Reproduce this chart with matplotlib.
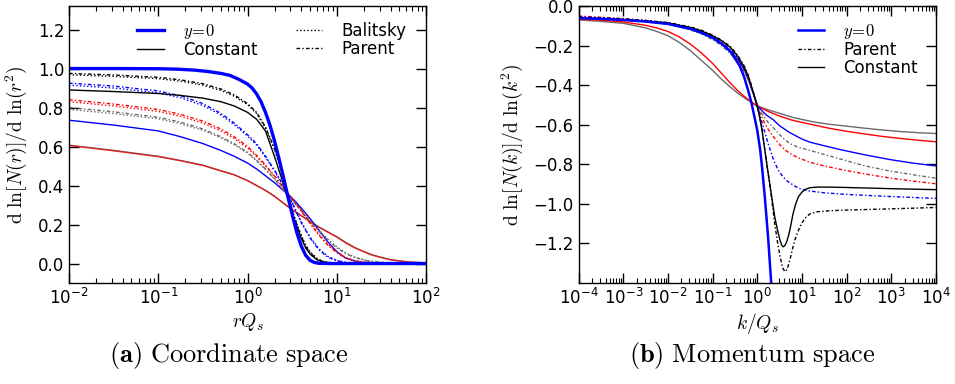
import numpy as np
import matplotlib
matplotlib.use("Agg")
import matplotlib.pyplot as plt
from matplotlib.lines import Line2D
from matplotlib.ticker import LogLocator

plt.rcParams['mathtext.fontset'] = 'cm'
plt.rcParams['font.family'] = 'DejaVu Sans'
plt.rcParams['axes.linewidth'] = 1.0

BLUE = '#0000ff'
RED = '#ff0000'
GRAY = '#6a6a6a'
BLACK = '#000000'
DOT = (0, (1.0, 1.6))
DASHDOT = (0, (2.6, 1.6, 1.0, 1.6))

# ---- (a) coordinate space, x = log10(r Qs) ----
r_y0 = [-2, -1.5, -1, -0.8, -0.6, -0.45, -0.3, -0.2, -0.1, 0, 0.05, 0.1, 0.15, 0.2, 0.25, 0.3,
        0.35, 0.4, 0.45, 0.5, 0.55, 0.6, 0.65, 0.7, 0.75, 0.8, 0.9, 2]
v_y0 = [1.0, 1.0, 0.999, 0.997, 0.992, 0.985, 0.975, 0.965, 0.945, 0.92, 0.9, 0.87, 0.83, 0.775,
        0.71, 0.63, 0.54, 0.445, 0.345, 0.25, 0.16, 0.09, 0.042, 0.016, 0.005, 0.001, 0.0, 0.0]

r_blk = [-2, -1.5, -1, -0.75, -0.5, -0.3, -0.15, 0, 0.1, 0.2, 0.3, 0.35, 0.4, 0.45, 0.5, 0.55,
         0.6, 0.65, 0.7, 0.78, 0.85, 0.95, 1.1, 2]
v_const_blk = [0.89, 0.882, 0.872, 0.862, 0.848, 0.83, 0.808, 0.775, 0.74, 0.68, 0.55, 0.48, 0.41,
               0.33, 0.255, 0.19, 0.13, 0.08, 0.048, 0.018, 0.007, 0.002, 0.0, 0.0]
v_par_blk = [0.975, 0.967, 0.955, 0.942, 0.922, 0.895, 0.865, 0.82, 0.775, 0.7, 0.59, 0.52, 0.44,
             0.355, 0.27, 0.2, 0.14, 0.09, 0.055, 0.022, 0.009, 0.003, 0.0, 0.0]
v_bal_blk = [0.968, 0.96, 0.948, 0.935, 0.915, 0.888, 0.858, 0.814, 0.77, 0.696, 0.587, 0.518, 0.44,
             0.357, 0.274, 0.205, 0.145, 0.095, 0.06, 0.025, 0.01, 0.003, 0.0, 0.0]

r_blu = [-2, -1.5, -1, -0.75, -0.5, -0.3, -0.15, 0, 0.1, 0.2, 0.3, 0.4, 0.5, 0.6, 0.7, 0.8, 0.9,
         1.0, 1.1, 1.25, 2]
v_par_blue = [0.925, 0.91, 0.885, 0.86, 0.82, 0.77, 0.72, 0.66, 0.615, 0.55, 0.48, 0.4, 0.31, 0.21,
              0.13, 0.07, 0.032, 0.014, 0.005, 0.001, 0.0]
v_bal_blue = [0.915, 0.9, 0.875, 0.85, 0.81, 0.762, 0.712, 0.653, 0.608, 0.545, 0.476, 0.398, 0.31,
              0.215, 0.135, 0.075, 0.036, 0.016, 0.006, 0.001, 0.0]
v_const_blue = [0.735, 0.71, 0.68, 0.65, 0.615, 0.58, 0.55, 0.515, 0.485, 0.45, 0.415, 0.375, 0.335,
                0.285, 0.23, 0.17, 0.11, 0.06, 0.027, 0.006, 0.0]

r_oth = [-2, -1.5, -1, -0.75, -0.5, -0.3, -0.15, 0, 0.1, 0.2, 0.3, 0.4, 0.5, 0.6, 0.7, 0.8, 0.9,
         1.0, 1.1, 1.2, 1.35, 1.5, 1.7, 2]
v_par_red = [0.84, 0.818, 0.79, 0.765, 0.73, 0.69, 0.65, 0.6, 0.555, 0.505, 0.45, 0.39, 0.33, 0.27,
             0.205, 0.145, 0.093, 0.055, 0.028, 0.013, 0.004, 0.001, 0.0, 0.0]
v_bal_red = [0.83, 0.808, 0.78, 0.755, 0.72, 0.68, 0.641, 0.592, 0.548, 0.5, 0.447, 0.389, 0.331,
             0.273, 0.21, 0.15, 0.098, 0.059, 0.031, 0.015, 0.005, 0.001, 0.0, 0.0]
v_par_gray = [0.8, 0.778, 0.75, 0.725, 0.69, 0.65, 0.615, 0.57, 0.53, 0.485, 0.435, 0.38, 0.325, 0.27,
              0.215, 0.165, 0.12, 0.08, 0.05, 0.03, 0.012, 0.005, 0.001, 0.0]
v_bal_gray = [0.79, 0.769, 0.742, 0.717, 0.683, 0.644, 0.609, 0.565, 0.526, 0.482, 0.433, 0.379,
              0.326, 0.272, 0.219, 0.17, 0.125, 0.085, 0.054, 0.033, 0.014, 0.006, 0.002, 0.0]

r_rg = [-2, -1.5, -1, -0.75, -0.5, -0.3, -0.15, 0, 0.1, 0.2, 0.3, 0.4, 0.5, 0.6, 0.7, 0.8, 0.9,
        1.0, 1.1, 1.2, 1.3, 1.4, 1.5, 1.6, 1.8, 2]
v_const_red = [0.605, 0.578, 0.548, 0.527, 0.503, 0.475, 0.455, 0.425, 0.4, 0.375, 0.345, 0.31,
               0.275, 0.245, 0.215, 0.185, 0.16, 0.135, 0.105, 0.08, 0.06, 0.042, 0.03, 0.019, 0.007, 0.003]
v_const_gray = [0.607, 0.58, 0.55, 0.528, 0.504, 0.476, 0.455, 0.425, 0.4, 0.375, 0.345, 0.31,
                0.276, 0.246, 0.216, 0.187, 0.162, 0.137, 0.108, 0.082, 0.062, 0.044, 0.031, 0.02, 0.008, 0.003]

# ---- (b) momentum space, x = log10(k / Qs) ----
k_y0 = [-4, -3.5, -3, -2.5, -2, -1.5, -1.25, -1, -0.8, -0.6, -0.4, -0.3, -0.2, -0.13, -0.05, 0,
        0.06, 0.1, 0.17, 0.245, 0.32, 0.34]
w_y0 = [-0.06, -0.064, -0.07, -0.078, -0.09, -0.115, -0.135, -0.16, -0.19, -0.23, -0.3, -0.355,
        -0.43, -0.49, -0.575, -0.63, -0.72, -0.8, -0.97, -1.18, -1.43, -1.5]

k_cblk = [-4, -3.5, -3, -2.5, -2, -1.5, -1.25, -1, -0.8, -0.6, -0.45, -0.3, -0.2, -0.1, 0, 0.05,
          0.1, 0.17, 0.22, 0.28, 0.34, 0.39, 0.45, 0.51, 0.55, 0.58, 0.62, 0.66, 0.7, 0.74, 0.8,
          0.86, 0.92, 1.0, 1.07, 1.18, 1.35, 1.6, 2, 3, 4]
w_cblk = [-0.06, -0.063, -0.068, -0.075, -0.085, -0.108, -0.125, -0.15, -0.175, -0.21, -0.25,
          -0.305, -0.355, -0.43, -0.51, -0.56, -0.62, -0.73, -0.81, -0.9, -0.99, -1.065, -1.13,
          -1.185, -1.21, -1.217, -1.21, -1.19, -1.16, -1.12, -1.05, -1.0, -0.964, -0.94, -0.927,
          -0.918, -0.915, -0.915, -0.917, -0.923, -0.928]

k_pblk = [-4, -3.5, -3, -2.5, -2, -1.5, -1.25, -1, -0.8, -0.6, -0.45, -0.3, -0.2, -0.1, 0, 0.05,
          0.1, 0.17, 0.22, 0.28, 0.34, 0.39, 0.45, 0.51, 0.57, 0.62, 0.67, 0.73, 0.79, 0.84, 0.92,
          0.99, 1.08, 1.18, 1.33, 1.6, 2, 3, 4]
w_pblk = [-0.055, -0.059, -0.065, -0.073, -0.083, -0.105, -0.122, -0.147, -0.172, -0.205, -0.245,
          -0.3, -0.35, -0.425, -0.505, -0.555, -0.615, -0.73, -0.81, -0.905, -1.01, -1.1, -1.19,
          -1.268, -1.325, -1.343, -1.33, -1.284, -1.225, -1.183, -1.135, -1.099, -1.07, -1.05,
          -1.04, -1.035, -1.031, -1.025, -1.018]

k_pb = [-4, -3, -2.5, -2, -1.5, -1.25, -1, -0.8, -0.6, -0.45, -0.3, -0.2, -0.1, 0, 0.06, 0.12,
        0.17, 0.25, 0.36, 0.47, 0.58, 0.7, 0.88, 1.0, 1.18, 1.5, 2, 3, 4]
w_pblue = [-0.055, -0.065, -0.073, -0.085, -0.112, -0.13, -0.157, -0.183, -0.22, -0.26, -0.315,
           -0.365, -0.43, -0.505, -0.555, -0.6, -0.64, -0.7, -0.775, -0.83, -0.865, -0.89, -0.915,
           -0.927, -0.935, -0.944, -0.952, -0.963, -0.972]

k_po = [-4, -3.5, -3, -2.5, -2, -1.5, -1.25, -1, -0.8, -0.6, -0.45, -0.3, -0.2, -0.1, 0, 0.06,
        0.15, 0.25, 0.36, 0.5, 0.6, 0.73, 0.9, 1.18, 1.5, 1.85, 2.2, 2.5, 3, 3.5, 4]
w_pred = [-0.05, -0.056, -0.063, -0.072, -0.085, -0.113, -0.133, -0.162, -0.19, -0.228, -0.265,
          -0.32, -0.37, -0.435, -0.5, -0.54, -0.585, -0.625, -0.66, -0.7, -0.723, -0.745, -0.765,
          -0.79, -0.808, -0.825, -0.84, -0.852, -0.87, -0.885, -0.898]
w_pgray = [-0.055, -0.06, -0.066, -0.076, -0.09, -0.12, -0.14, -0.17, -0.2, -0.24, -0.28, -0.33,
           -0.375, -0.435, -0.5, -0.528, -0.56, -0.59, -0.615, -0.65, -0.672, -0.695, -0.712,
           -0.73, -0.75, -0.772, -0.795, -0.812, -0.835, -0.853, -0.87]

k_cb = [-4, -3, -2.5, -2, -1.5, -1.25, -1, -0.8, -0.6, -0.45, -0.3, -0.2, -0.1, 0, 0.1, 0.2, 0.36,
        0.5, 0.73, 1.0, 1.18, 1.5, 1.85, 2.2, 2.5, 3, 3.5, 4]
w_cblue = [-0.06, -0.07, -0.078, -0.09, -0.117, -0.135, -0.162, -0.19, -0.228, -0.265, -0.318,
           -0.37, -0.435, -0.5, -0.528, -0.55, -0.575, -0.605, -0.64, -0.672, -0.688, -0.706,
           -0.725, -0.742, -0.756, -0.777, -0.794, -0.808]

k_cr = [-4, -3.5, -3, -2.5, -2.25, -2, -1.75, -1.5, -1.25, -1, -0.8, -0.6, -0.45, -0.3, -0.15, 0,
        0.25, 0.5, 0.8, 1.25, 1.6, 2, 2.4, 2.74, 3.2, 3.6, 4]
w_cred = [-0.065, -0.071, -0.08, -0.097, -0.11, -0.128, -0.155, -0.192, -0.237, -0.29, -0.34,
          -0.39, -0.425, -0.455, -0.482, -0.505, -0.533, -0.556, -0.578, -0.6, -0.617, -0.633,
          -0.646, -0.657, -0.669, -0.678, -0.686]
w_cgray = [-0.07, -0.077, -0.087, -0.11, -0.128, -0.15, -0.183, -0.225, -0.275, -0.325, -0.37,
           -0.41, -0.438, -0.462, -0.484, -0.505, -0.525, -0.542, -0.563, -0.585, -0.597, -0.607,
           -0.617, -0.625, -0.634, -0.64, -0.644]


def lg(a):
    return 10.0 ** np.asarray(a)


def style_axes(ax):
    ax.set_xscale('log')
    ax.tick_params(which='both', direction='in', top=True, right=True, labelsize=12)
    ax.tick_params(which='major', length=7, width=1)
    ax.tick_params(which='minor', length=3.5, width=0.8)


fig = plt.figure(figsize=(9.55, 3.84), dpi=100)
axa = fig.add_axes([0.0723, 0.263, 0.374, 0.721])
axb = fig.add_axes([0.606, 0.263, 0.374, 0.721])

# panel (a)
axa.plot(lg(r_rg), v_const_gray, color=GRAY, lw=1.0)
axa.plot(lg(r_rg), v_const_red, color=RED, lw=1.0, alpha=0.75)
axa.plot(lg(r_blu), v_const_blue, color=BLUE, lw=1.0)
axa.plot(lg(r_oth), v_bal_gray, color=GRAY, lw=1.0, ls=DOT)
axa.plot(lg(r_oth), v_par_gray, color=GRAY, lw=1.0, ls=DASHDOT)
axa.plot(lg(r_oth), v_bal_red, color=RED, lw=1.0, ls=DOT)
axa.plot(lg(r_oth), v_par_red, color=RED, lw=1.0, ls=DASHDOT)
axa.plot(lg(r_blu), v_bal_blue, color=BLUE, lw=1.0, ls=DOT)
axa.plot(lg(r_blu), v_par_blue, color=BLUE, lw=1.0, ls=DASHDOT)
axa.plot(lg(r_blk), v_const_blk, color=BLACK, lw=1.0)
axa.plot(lg(r_blk), v_bal_blk, color=BLACK, lw=1.0, ls=DOT)
axa.plot(lg(r_blk), v_par_blk, color=BLACK, lw=1.0, ls=DASHDOT)
axa.plot(lg(r_y0), v_y0, color=BLUE, lw=2.4)

style_axes(axa)
axa.set_xlim(1e-2, 1e2)
axa.set_ylim(-0.1, 1.32)
axa.set_yticks(np.arange(0, 1.21, 0.2))
axa.set_xlabel(r'$rQ_s$', fontsize=14, labelpad=2)
axa.set_ylabel(r'$\mathrm{d}\ \ln[N(r)]/\mathrm{d}\ \ln(r^2)$', fontsize=14, labelpad=6)

ha = [Line2D([], [], color=BLUE, lw=2.4),
      Line2D([], [], color=BLACK, lw=1.0),
      Line2D([], [], color=BLACK, lw=1.0, ls=DOT),
      Line2D([], [], color=BLACK, lw=1.0, ls=DASHDOT)]
axa.legend(ha, [r'$y\!=\!0$', 'Constant', 'Balitsky', 'Parent'], ncol=2, frameon=False,
           loc='upper left', bbox_to_anchor=(0.172, 0.967), borderaxespad=0, fontsize=12,
           handlelength=1.6, handletextpad=1.15, columnspacing=2.3, labelspacing=0.0)

# panel (b)
axb.plot(lg(k_cr), w_cgray, color=GRAY, lw=1.0)
axb.plot(lg(k_cr), w_cred, color=RED, lw=1.0)
axb.plot(lg(k_cb), w_cblue, color=BLUE, lw=1.0)
axb.plot(lg(k_po), w_pgray, color=GRAY, lw=1.0, ls=DASHDOT)
axb.plot(lg(k_po), w_pred, color=RED, lw=1.0, ls=DASHDOT)
axb.plot(lg(k_pb), w_pblue, color=BLUE, lw=1.0, ls=DASHDOT)
axb.plot(lg(k_pblk), w_pblk, color=BLACK, lw=1.0, ls=DASHDOT)
axb.plot(lg(k_cblk), w_cblk, color=BLACK, lw=1.0)
axb.plot(lg(k_y0), w_y0, color=BLUE, lw=1.8)

style_axes(axb)
axb.set_xlim(1e-4, 1e4)
axb.set_ylim(-1.4, 0.0)
axb.set_yticks(np.arange(-1.2, 0.01, 0.2))
axb.xaxis.set_major_locator(LogLocator(base=10, numticks=20))
axb.xaxis.set_minor_locator(LogLocator(base=10, subs=np.arange(2, 10), numticks=20))
axb.set_xlabel(r'$k/Q_s$', fontsize=14, labelpad=2)
axb.set_ylabel(r'$\mathrm{d}\ \ln[N(k)]/\mathrm{d}\ \ln(k^2)$', fontsize=14, labelpad=6)

hb = [Line2D([], [], color=BLUE, lw=1.8),
      Line2D([], [], color=BLACK, lw=1.0, ls=DASHDOT),
      Line2D([], [], color=BLACK, lw=1.0)]
axb.legend(hb, [r'$y\!=\!0$', 'Parent', 'Constant'], frameon=False,
           loc='upper left', bbox_to_anchor=(0.594, 0.967), borderaxespad=0, fontsize=12,
           handlelength=1.6, handletextpad=1.15, labelspacing=0.0)

fig.text(0.239, 0.075, r'$\mathbf{(a)}\ \mathrm{Coordinate\ space}$', ha='center', va='center', fontsize=19)
fig.text(0.788, 0.075, r'$\mathbf{(b)}\ \mathrm{Momentum\ space}$', ha='center', va='center', fontsize=19)

fig.savefig('out.png', dpi=100)
